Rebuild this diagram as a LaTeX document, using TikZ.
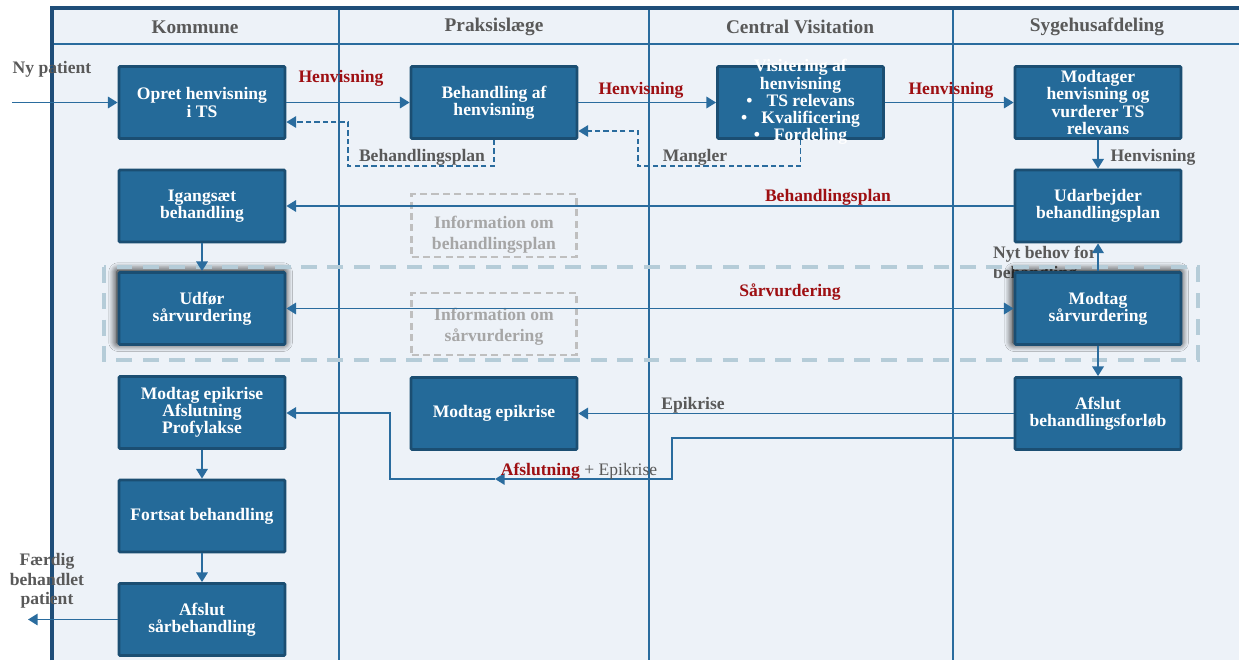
\documentclass[tikz,border=0pt]{standalone}
\usepackage{fontspec}
\setmainfont{Liberation Serif}
\usetikzlibrary{arrows.meta,shadows.blur}

\definecolor{boxfill}{HTML}{246A99}
\definecolor{boxedge}{HTML}{1B4E72}
\definecolor{linecol}{HTML}{2A6C9E}
\definecolor{lanebg}{HTML}{EDF2F8}
\definecolor{frameline}{HTML}{1F4E79}
\definecolor{labred}{HTML}{9E0F12}
\definecolor{labgray}{HTML}{595959}
\definecolor{infogray}{HTML}{BFBFBF}
\definecolor{infotext}{HTML}{A6A6A6}
\definecolor{zoneblue}{HTML}{B5CCD8}

\tikzset{
  procbox/.style={draw=boxedge, line width=1.6pt, fill=boxfill, text=white,
    font=\bfseries\fontsize{10}{9.8}\selectfont, align=center,
    minimum width=3.32cm, minimum height=1.44cm, inner sep=1pt, rounded corners=0.6pt},
  glowbox/.style={procbox, blur shadow={shadow xshift=-0.8pt, shadow yshift=0.8pt,
    shadow blur radius=4.5pt, shadow opacity=100, shadow scale=1.01, shadow blur steps=12}},
  boxtext/.style={text=white, font=\bfseries\fontsize{10}{9.8}\selectfont, align=center, inner sep=0pt},
  infobox/.style={draw=infogray, line width=1.2pt, dash pattern=on 4pt off 2.5pt,
    minimum width=3.3cm, minimum height=1.25cm, inner sep=1pt},
  infotxt/.style={text=infotext, font=\bfseries\fontsize{10}{12}\selectfont, align=center, inner sep=0pt},
  conn/.style={draw=linecol, line width=1.1pt, -{Triangle[width=6.5pt,length=5.5pt]}},
  dconn/.style={conn, line width=0.9pt, dash pattern=on 3pt off 1.8pt},
  lane/.style={draw=linecol, line width=0.9pt},
  header/.style={text=labgray, font=\bfseries\fontsize{11}{13}\selectfont},
  redlab/.style={text=labred, font=\bfseries\fontsize{10}{12}\selectfont, inner sep=1pt},
  graylab/.style={text=labgray, font=\bfseries\fontsize{10}{12}\selectfont, inner sep=1pt},
}

\begin{document}
\begin{tikzpicture}[x=0.02cm, y=-0.02cm]
\useasboundingbox (0,0) rectangle (1239,660);
\fill[white] (0,0) rectangle (1239,660);

% swimlane frame
\fill[lanebg] (52,8) rectangle (1239,660);
\draw[lane] (52,44) -- (1239,44);
\draw[lane] (339,8) -- (339,660);
\draw[lane] (649,8) -- (649,660);
\draw[lane] (953,8) -- (953,660);
\draw[frameline, line width=1.8pt] (52,660) -- (52,8) -- (1239,8);

% lane headers
\node[header] (hKom) at (195,27) {Kommune};
\node[header] (hPra) at (494,27) {Praksislæge};
\node[header] (hCen) at (800,27) {Central Visitation};
\node[header] (hSyg) at (1097,27) {Sygehusafdeling};

% information boxes
\node[infobox] (infoA) at (494,225.5) {};
\node[infotxt] (infoAt) at (494,235) {Information om\\behandlingsplan};
\node[infobox] (infoB) at (494,324) {};
\node[infotxt] (infoBt) at (494,327) {Information om\\sårvurdering};

% label partly hidden behind the glowing box
\node[graylab, anchor=west, align=left, font=\bfseries\fontsize{10}{11.3}\selectfont]
  (nyt) at (991,264) {Nyt behov for\\behandling};

% process boxes
\node[procbox] (b1) at (202,102.5) {Opret henvisning\\i TS};
\node[procbox] (b2) at (494,102.5) {Behandling af\\henvisning};
\node[procbox] (b3) at (800.5,102.5) {};
\node[boxtext] (b3t) at (800.5,102) {Visitering af\\henvisning\\\textbullet\hspace{0.8em}TS relevans\\\textbullet\hspace{0.8em}Kvalificering\\\textbullet\hspace{0.8em}Fordeling};
\node[procbox] (b4) at (1098,102.5) {Modtager\\henvisning og\\vurderer TS\\relevans};
\node[procbox] (b5) at (202,206) {Igangsæt\\behandling};
\node[procbox] (b6) at (1098,206) {Udarbejder\\behandlingsplan};
\node[glowbox] (b7) at (202,308.5) {Udfør\\sårvurdering};
\node[glowbox] (b8) at (1098,308.5) {Modtag\\sårvurdering};
\node[procbox] (b9) at (202,412.5) {Modtag epikrise\\Afslutning\\Profylakse};
\node[procbox] (b10) at (494,413.5) {Modtag epikrise};
\node[procbox] (b11) at (1098,413.5) {Afslut\\behandlingsforløb};
\node[procbox] (b12) at (202,516) {Fortsat behandling};
\node[procbox] (b13) at (202,619.5) {Afslut\\sårbehandling};

% wound assessment zone
\draw[zoneblue, line width=2.2pt, dash pattern=on 9pt off 6pt] (104,267) rectangle (1198,360);

% patient in and out
\coordinate (pin) at (12,102.5);
\coordinate (pout) at (28,619.5);
\draw[conn] (pin) -- (b1.west);
\node[graylab] (lNy) at (52,69) {Ny patient};
\draw[conn] (b13.west) -- (pout);
\node[graylab, align=center, font=\bfseries\fontsize{10}{11}\selectfont] (lFaer) at (47,581) {Færdig\\behandlet\\patient};

% referral flow
\draw[conn] (b1.east) -- (b2.west);
\node[redlab] (lH1) at (341,78) {Henvisning};
\draw[conn] (b2.east) -- (b3.west);
\node[redlab] (lH2) at (641,90) {Henvisning};
\draw[conn] (b3.east) -- (b4.west);
\node[redlab] (lH3) at (951,90) {Henvisning};

% dashed returns
\coordinate (dA) at (348,166);
\coordinate (dB) at (348,122);
\draw[dconn] (b2.south) |- (dA) -- (dB) -- (b1.east |- dB);
\node[graylab] (lBp1) at (422,157) {Behandlingsplan};
\coordinate (dC) at (638,166);
\coordinate (dD) at (638,131);
\draw[dconn] (b3.south) |- (dC) -- (dD) -- (b2.east |- dD);
\node[graylab] (lMan) at (695,157) {Mangler};

% hospital column
\draw[conn] (b4.south) -- (b6.north);
\node[graylab] (lH4) at (1153,157) {Henvisning};
\draw[conn] (b6.west) -- (b5.east);
\node[redlab] (lBp2) at (828,197) {Behandlingsplan};
\draw[conn] (b5.south) -- (b7.north);
\draw[conn, {Triangle[width=6.5pt,length=5.5pt]}-{Triangle[width=6.5pt,length=5.5pt]}] (b7.east) -- (b8.west);
\node[redlab] (lSaar) at (790,292) {Sårvurdering};
\draw[conn] (b8.north) -- (b6.south);
\draw[conn] (b8.south) -- (b11.north);

% discharge
\draw[conn] (b11.west) -- (b10.east);
\node[graylab] (lEpi) at (693,405) {Epikrise};
\coordinate (tA) at (672,438);
\coordinate (tB) at (672,479);
\coordinate (tC) at (495,479);
\coordinate (tD) at (390,479);
\coordinate (tE) at (390,413);
\draw[conn] (b11.west |- tA) -- (tA) -- (tB) -- (tC);
\draw[conn] (tC) -- (tD) -- (tE) -- (b9.east |- tE);
\node[inner sep=1pt, font=\fontsize{10}{12}\selectfont] (lAfs) at (579,471)
  {\textcolor{labred}{\bfseries Afslutning} \textcolor{labgray}{+ Epikrise}};

% continued care
\draw[conn] (b9.south) -- (b12.north);
\draw[conn] (b12.south) -- (b13.north);
\end{tikzpicture}
\end{document}
